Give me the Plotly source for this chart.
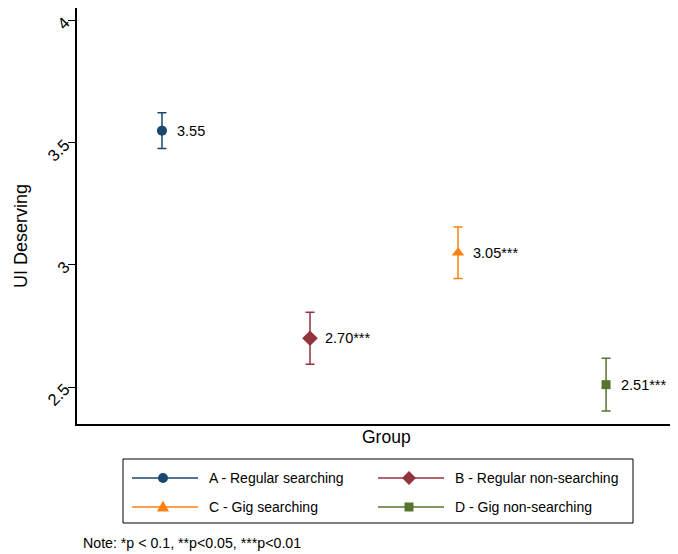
import plotly.graph_objects as go

groups = ["A - Regular searching", "B - Regular non-searching", "C - Gig searching", "D - Gig non-searching"]
xpos = [1, 2, 3, 4]
means = [3.55, 2.70, 3.05, 2.51]
ci_half = [0.073, 0.106, 0.105, 0.108]
stars = ["", "***", "***", "***"]
colors = ["#1a476f", "#90353b", "#ff800e", "#55752f"]
symbols = ["circle", "diamond", "triangle-up", "square"]
msizes = [10, 12, 11, 9]
yticks = [2.5, 3, 3.5, 4]
note_text = "Note: *p < 0.1, **p<0.05, ***p<0.01"

# page offset: the browser's default body margin is 8px
OFF = 8
W, H = 678 - OFF, 554 - OFF
ML, MR, MT, MB = 77 - OFF, 0, 8 - OFF, 130
PW, PH = W - ML - MR, H - MT - MB


def px(xp):
    """page pixel x -> paper coordinate"""
    return (xp - OFF - ML) / PW


def py(yp):
    """page pixel y -> paper coordinate"""
    return (H - MB - (yp - OFF)) / PH


fig = go.Figure()
annotations = []
for i in range(len(groups)):
    fig.add_trace(go.Scatter(
        x=[xpos[i]], y=[means[i]],
        mode="markers",
        name=groups[i],
        marker=dict(symbol=symbols[i], size=msizes[i], color=colors[i]),
        error_y=dict(type="data", array=[ci_half[i]], color=colors[i], thickness=1.5, width=4.5),
        showlegend=False,
    ))
    label = f"{means[i]:.2f}{stars[i]}"
    annotations.append(dict(x=xpos[i], y=means[i], xref="x", yref="y", text=label,
                            xanchor="left", yanchor="middle", xshift=13, showarrow=False,
                            font=dict(size=14.5, color="black")))

# axis titles
annotations.append(dict(text="Group", xref="paper", yref="paper", x=px(386), y=py(437),
                        xanchor="center", yanchor="middle", showarrow=False, font=dict(size=17.5)))
annotations.append(dict(text="UI Deserving", xref="paper", yref="paper", x=px(21), y=py(236),
                        xanchor="center", yanchor="middle", textangle=-90, showarrow=False,
                        font=dict(size=18)))
# note
annotations.append(dict(text=note_text, xref="paper", yref="paper", x=px(81), y=py(543),
                        xanchor="left", yanchor="middle", showarrow=False, font=dict(size=14.2)))

# manual legend (Stata style)
shapes = [dict(type="rect", xref="paper", yref="paper", x0=px(123), x1=px(633), y0=py(459), y1=py(523),
               line=dict(color="black", width=1), fillcolor="white", layer="above")]
leg_pos = [(132, 478), (378, 478), (132, 507), (378, 507)]
for i, (lx, ly) in enumerate(leg_pos):
    c = colors[i]
    shapes.append(dict(type="line", xref="paper", yref="paper", x0=px(lx), x1=px(lx + 66),
                       y0=py(ly), y1=py(ly), line=dict(color=c, width=1.5)))
    cx = lx + 31
    s = msizes[i] / 2
    if symbols[i] == "circle":
        shapes.append(dict(type="circle", xref="paper", yref="paper", x0=px(cx - s), x1=px(cx + s),
                           y0=py(ly + s), y1=py(ly - s), fillcolor=c, line=dict(color=c, width=0)))
    elif symbols[i] == "diamond":
        d = s + 1
        path = f"M{px(cx - d)},{py(ly)} L{px(cx)},{py(ly - d)} L{px(cx + d)},{py(ly)} L{px(cx)},{py(ly + d)} Z"
        shapes.append(dict(type="path", xref="paper", yref="paper", path=path, fillcolor=c,
                           line=dict(color=c, width=0)))
    elif symbols[i] == "triangle-up":
        path = f"M{px(cx - s - 0.5)},{py(ly + s - 1)} L{px(cx)},{py(ly - s - 1)} L{px(cx + s + 0.5)},{py(ly + s - 1)} Z"
        shapes.append(dict(type="path", xref="paper", yref="paper", path=path, fillcolor=c,
                           line=dict(color=c, width=0)))
    else:
        shapes.append(dict(type="rect", xref="paper", yref="paper", x0=px(cx - s), x1=px(cx + s),
                           y0=py(ly + s), y1=py(ly - s), fillcolor=c, line=dict(color=c, width=0)))
    annotations.append(dict(text=groups[i], xref="paper", yref="paper", x=px(lx + 75), y=py(ly),
                            xanchor="left", yanchor="middle", showarrow=False, font=dict(size=14)))

fig.update_layout(
    width=W, height=H,
    margin=dict(l=ML, r=MR, t=MT, b=MB, autoexpand=False),
    plot_bgcolor="white", paper_bgcolor="white",
    font=dict(family="Liberation Sans, Arial, sans-serif", color="black"),
    showlegend=False,
    xaxis=dict(range=[0.426, 4.486], showticklabels=False, ticks="", showgrid=False,
               zeroline=False, showline=True, linecolor="black", linewidth=1.5, mirror=True),
    yaxis=dict(range=[2.349, 4.052], tickvals=yticks, ticktext=[f"{v:g}" for v in yticks],
               tickangle=-45, ticks="outside", ticklen=7, tickwidth=1, tickcolor="black",
               tickfont=dict(size=16.5), showgrid=False, zeroline=False, showline=True,
               linecolor="black", linewidth=1.5),
    annotations=annotations,
    shapes=shapes,
)

fig.write_html("out.html")
